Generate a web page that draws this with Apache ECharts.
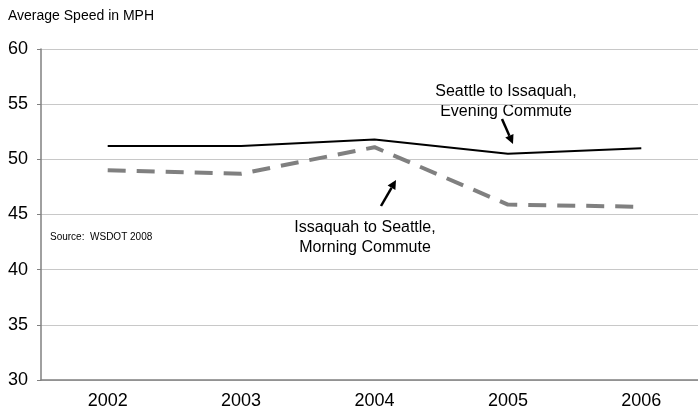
<!DOCTYPE html>
<html>
<head>
<meta charset="utf-8">
<script src="https://cdn.jsdelivr.net/npm/echarts@6/dist/echarts.min.js"></script>
<style>
  html, body { margin: 0; padding: 0; background: #fff; }
  #main { width: 698px; height: 414px; }
</style>
</head>
<body>
<div id="main"></div>
<script>
const years = ['2002', '2003', '2004', '2005', '2006'];
const eveningCommute = [51.2, 51.2, 51.8, 50.5, 51.0];
const morningCommute = [49.0, 48.7, 51.1, 45.9, 45.7];

const chart = echarts.init(document.getElementById('main'));
const font = 'Liberation Sans, Arial, sans-serif';

function arrow(x1, y1, x2, y2) {
  const a = Math.atan2(y2 - y1, x2 - x1);
  const L = 9, W = 4.5;
  const bx = x2 - L * Math.cos(a), by = y2 - L * Math.sin(a);
  return [
    { type: 'line', shape: { x1: x1, y1: y1, x2: bx, y2: by }, style: { stroke: '#000', lineWidth: 2.5 } },
    { type: 'polygon', shape: { points: [[x2, y2],
        [bx + W * Math.sin(a), by - W * Math.cos(a)],
        [bx - W * Math.sin(a), by + W * Math.cos(a)]] }, style: { fill: '#000' } }
  ];
}

chart.setOption({
  animation: false,
  grid: { left: 41, top: 49, width: 667, height: 331, outerBoundsMode: 'none' },
  xAxis: {
    type: 'category',
    data: years,
    boundaryGap: true,
    axisLine: { lineStyle: { color: '#808080', width: 1.5 } },
    axisTick: { show: false },
    axisLabel: { color: '#000', fontSize: 18, fontFamily: font, margin: 12 }
  },
  yAxis: {
    type: 'value',
    min: 30, max: 60, interval: 5,
    axisLine: { show: true, lineStyle: { color: '#808080', width: 1.5 } },
    axisTick: { show: true, length: 4, lineStyle: { color: '#808080' } },
    axisLabel: { color: '#000', fontSize: 18, fontFamily: font, margin: 13 },
    splitLine: { lineStyle: { color: '#c8c8c8', width: 1 } }
  },
  series: [
    {
      name: 'Seattle to Issaquah, Evening Commute',
      type: 'line',
      data: eveningCommute,
      symbol: 'none',
      lineStyle: { color: '#000', width: 2 }
    },
    {
      name: 'Issaquah to Seattle, Morning Commute',
      type: 'line',
      data: morningCommute,
      symbol: 'none',
      lineStyle: { color: '#808080', width: 4, type: [18, 11] }
    }
  ],
  graphic: [
    { type: 'text', left: 8, top: 9,
      style: { text: 'Average Speed in MPH', font: '14px ' + font, fill: '#000' } },
    { type: 'text', left: 50, top: 232,
      style: { text: 'Source:  WSDOT 2008', font: '10px ' + font, fill: '#000' } },
    { type: 'text', x: 506, y: 82,
      style: { text: 'Seattle to Issaquah,\nEvening Commute', font: '16px ' + font, fill: '#000',
               align: 'center', lineHeight: 20 } },
    { type: 'text', x: 365, y: 218,
      style: { text: 'Issaquah to Seattle,\nMorning Commute', font: '16px ' + font, fill: '#000',
               align: 'center', lineHeight: 20 } }
  ].concat(arrow(502, 119, 513, 144), arrow(381, 206, 396, 180))
});
</script>
</body>
</html>
